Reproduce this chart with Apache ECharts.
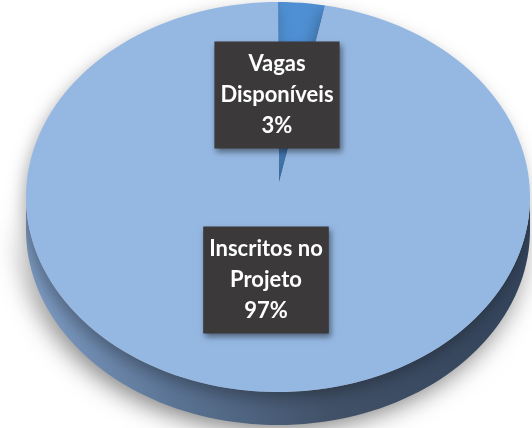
<!DOCTYPE html>
<html>
<head>
<meta charset="utf-8">
<script src="https://cdn.jsdelivr.net/npm/echarts@6/dist/echarts.min.js"></script>
<style>
  html, body { margin: 0; background: #fff; }
  #main { width: 532px; height: 428px; }
</style>
</head>
<body>
<div id="main"></div>
<script>
const categories = ['Vagas Disponíveis', 'Inscritos no Projeto'];
const values = [3, 97];
const sliceColors = ['#4f8fd3', '#95b8e3'];

const chart = echarts.init(document.getElementById('main'));

// layout of the tilted pie
const cx = 278, cy = 197, rx = 252, ry = 195, depth = 33;
const apex = [279, 183];
const labelCenters = [[277, 95], [266, 280]];
const total = values.reduce((a, b) => a + b, 0);

function angles(i) {
  let start = 0;
  for (let k = 0; k < i; k++) start += values[k] / total * 360;
  return [start, start + values[i] / total * 360];
}
function pt(deg, dy) {
  const r = deg * Math.PI / 180;
  return [cx + rx * Math.sin(r), cy - ry * Math.cos(r) + (dy || 0)];
}
function arc(a, b, dy) {
  const pts = [];
  const n = Math.max(2, Math.ceil((b - a) / 2));
  for (let k = 0; k <= n; k++) pts.push(pt(a + (b - a) * k / n, dy));
  return pts;
}
function wrap(name) {
  const i = name.lastIndexOf(' ');
  return i < 0 ? name : name.slice(0, i) + '\n' + name.slice(i + 1);
}

const sideGradient = new echarts.graphic.LinearGradient(0, 0, 1, 0, [
  { offset: 0, color: '#7f9dc5' },
  { offset: 0.3, color: '#5a7394' },
  { offset: 0.6, color: '#415168' },
  { offset: 1, color: '#33435a' }
]);

const data = values.map((v, i) => ({ value: v, name: categories[i] }));

const option = {
  animation: false,
  series: [
    {
      type: 'custom',
      coordinateSystem: 'none',
      z: 1,
      data: data,
      renderItem: (params, api) => {
        const [s, e] = angles(params.dataIndex);
        const a = Math.max(s, 90), b = Math.min(e, 270);
        if (a >= b) return { type: 'group', children: [] };
        const pts = arc(a, b, 0).concat(arc(a, b, depth).reverse());
        return {
          type: 'polygon',
          shape: { points: pts },
          style: {
            fill: sideGradient,
            shadowColor: 'rgba(0,0,0,0.55)',
            shadowBlur: 26,
            shadowOffsetX: -4,
            shadowOffsetY: 4
          }
        };
      }
    },
    {
      type: 'custom',
      coordinateSystem: 'none',
      z: 2,
      data: data,
      renderItem: (params, api) => {
        const i = params.dataIndex;
        const [s, e] = angles(i);
        const pct = Math.round(values[i] / total * 100) + '%';
        return {
          type: 'group',
          children: [
            {
              type: 'polygon',
              shape: { points: [apex].concat(arc(s, e, 0)) },
              style: {
                fill: sliceColors[i],
                shadowColor: 'rgba(0,0,0,0.3)',
                shadowBlur: 16,
                shadowOffsetX: -3,
                shadowOffsetY: 6
              }
            },
            {
              type: 'text',
              z2: 10,
              style: {
                text: wrap(categories[i]) + '\n' + pct,
                x: labelCenters[i][0],
                y: labelCenters[i][1],
                align: 'center',
                verticalAlign: 'middle',
                fill: '#ffffff',
                font: 'bold 22px Lato',
                lineHeight: 31,
                backgroundColor: '#3b3939',
                padding: [7, 6, 7, 6],
                shadowColor: 'rgba(0,0,0,0.45)',
                shadowBlur: 6,
                shadowOffsetX: 2,
                shadowOffsetY: 3
              }
            }
          ]
        };
      }
    }
  ]
};

chart.setOption(option);
</script>
</body>
</html>
